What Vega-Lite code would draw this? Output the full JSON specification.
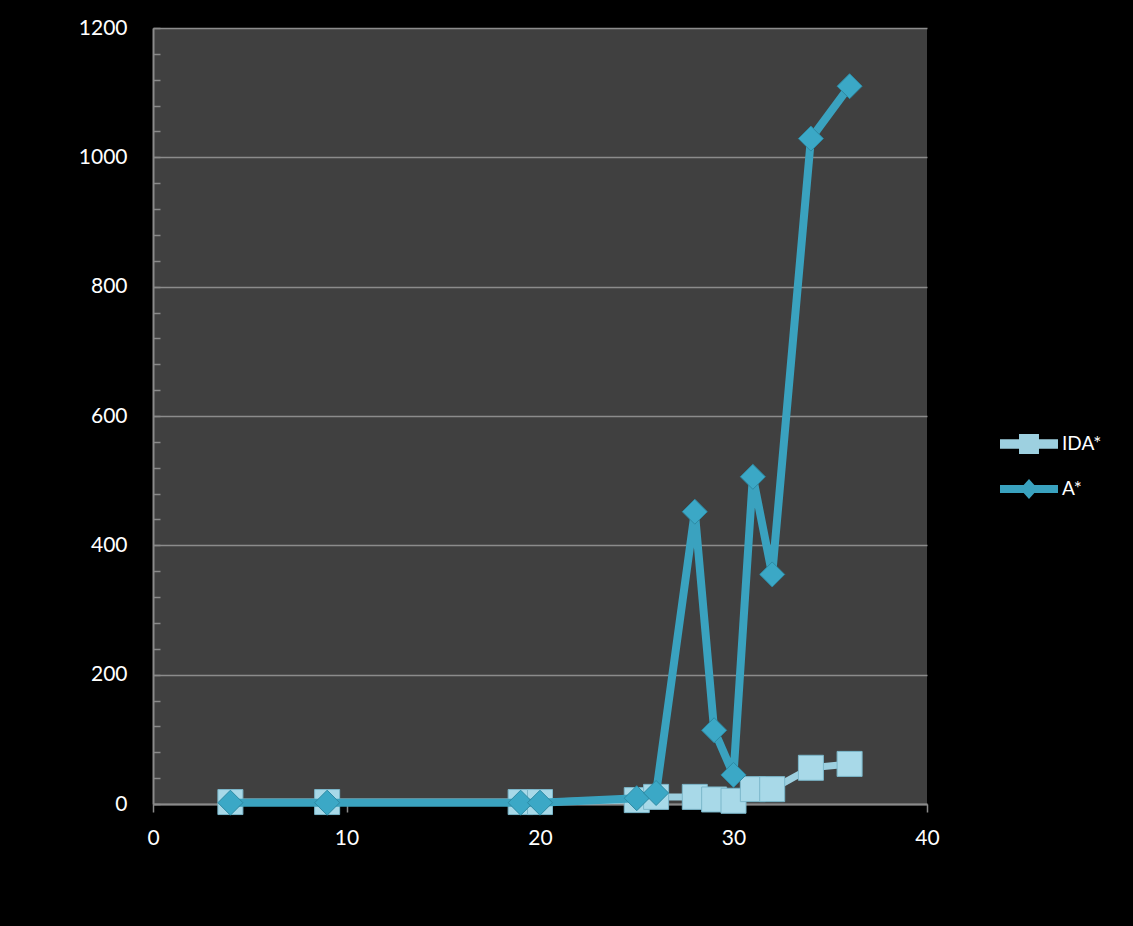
{
  "$schema": "https://vega.github.io/schema/vega-lite/v6.json",
  "width": 774,
  "height": 776,
  "autosize": {"type": "none"},
  "padding": {"left": 153, "top": 28, "right": 206, "bottom": 122},
  "background": "#000000",
  "config": {
    "view": {"fill": "#404040", "stroke": null},
    "font": "Lato",
    "axis": {"labelColor": "#ffffff", "labelFont": "Lato", "labelFontSize": 21, "domainColor": "#8a8a8a", "domainWidth": 2, "tickColor": "#8a8a8a", "tickWidth": 1.5, "title": null, "labelFlush": false, "labelOverlap": false}
  },
  "data": {
    "values": [
      {"series": "IDA*", "x": 4, "y": 3},
      {"series": "IDA*", "x": 9, "y": 3},
      {"series": "IDA*", "x": 19, "y": 3},
      {"series": "IDA*", "x": 20, "y": 3},
      {"series": "IDA*", "x": 25, "y": 6},
      {"series": "IDA*", "x": 26, "y": 11},
      {"series": "IDA*", "x": 28, "y": 11},
      {"series": "IDA*", "x": 29, "y": 7},
      {"series": "IDA*", "x": 30, "y": 5},
      {"series": "IDA*", "x": 31, "y": 23},
      {"series": "IDA*", "x": 32, "y": 23},
      {"series": "IDA*", "x": 34, "y": 56},
      {"series": "IDA*", "x": 36, "y": 62},
      {"series": "A*", "x": 4, "y": 2},
      {"series": "A*", "x": 9, "y": 2},
      {"series": "A*", "x": 19, "y": 2},
      {"series": "A*", "x": 20, "y": 2},
      {"series": "A*", "x": 25, "y": 9},
      {"series": "A*", "x": 26, "y": 17},
      {"series": "A*", "x": 28, "y": 452},
      {"series": "A*", "x": 29, "y": 114},
      {"series": "A*", "x": 30, "y": 45},
      {"series": "A*", "x": 31, "y": 506},
      {"series": "A*", "x": 32, "y": 355},
      {"series": "A*", "x": 34, "y": 1029},
      {"series": "A*", "x": 36, "y": 1110}
    ]
  },
  "layer": [
    {
      "transform": [{"filter": "datum.series === 'IDA*'"}],
      "mark": {"type": "line", "color": "#9dd0e0", "strokeWidth": 7},
      "encoding": {
        "x": {"field": "x", "type": "quantitative", "scale": {"domain": [0, 40], "nice": false},
          "axis": {"values": [0, 10, 20, 30, 40], "tickCount": 10, "grid": false, "tickSize": 8, "labelPadding": 15}},
        "y": {"field": "y", "type": "quantitative", "scale": {"domain": [0, 1200], "nice": false},
          "axis": {
            "values": [0, 40, 80, 120, 160, 200, 240, 280, 320, 360, 400, 440, 480, 520, 560, 600, 640, 680, 720, 760, 800, 840, 880, 920, 960, 1000, 1040, 1080, 1120, 1160, 1200],
            "tickCount": 100,
            "labelExpr": "datum.value % 200 === 0 ? '' + datum.value : ''",
            "grid": true,
            "gridColor": "#8c8c8c",
            "gridWidth": 1.5,
            "gridOpacity": {"condition": {"test": "datum.value % 200 === 0", "value": 1}, "value": 0},
            "tickSize": -7,
            "labelPadding": 33,
            "labelBaseline": "middle"
          }}
      }
    },
    {
      "transform": [{"filter": "datum.series === 'IDA*'"}],
      "mark": {"type": "point", "shape": "square", "filled": true, "size": 625, "fill": "#a8d9e8", "stroke": "#7bb7ca", "strokeWidth": 1, "opacity": 1},
      "encoding": {
        "x": {"field": "x", "type": "quantitative"},
        "y": {"field": "y", "type": "quantitative"}
      }
    },
    {
      "transform": [{"filter": "datum.series === 'A*'"}],
      "mark": {"type": "line", "color": "#3aa2bf", "strokeWidth": 8},
      "encoding": {
        "x": {"field": "x", "type": "quantitative"},
        "y": {"field": "y", "type": "quantitative"}
      }
    },
    {
      "transform": [{"filter": "datum.series === 'A*'"}],
      "mark": {"type": "point", "shape": "diamond", "filled": true, "size": 625, "fill": "#3ba8c6", "stroke": "#2d8aa4", "strokeWidth": 1, "opacity": 1},
      "encoding": {
        "x": {"field": "x", "type": "quantitative"},
        "y": {"field": "y", "type": "quantitative"}
      }
    },
    {
      "transform": [{"filter": "false"}],
      "mark": {"type": "point", "filled": true, "size": 538},
      "encoding": {
        "x": {"field": "x", "type": "quantitative"},
        "y": {"field": "y", "type": "quantitative"},
        "color": {"field": "series", "type": "nominal",
          "scale": {"domain": ["IDA*", "A*"], "range": ["#9dd0e0", "#3aa2bf"]},
          "legend": {"orient": "none", "legendX": 864, "legendY": 404, "title": null, "padding": 0,
            "labelColor": "#ffffff", "labelFont": "Lato", "labelFontSize": 19, "labelOffset": 21,
            "rowPadding": 23, "symbolSize": 538, "symbolStrokeWidth": 0, "symbolOpacity": 1}},
        "shape": {"field": "series", "type": "nominal",
          "scale": {"domain": ["IDA*", "A*"], "range": [
            "M-2.5,-0.4H-0.86V-0.86H0.86V-0.4H2.5V0.4H0.86V0.86H-0.86V0.4H-2.5Z",
            "M-2.5,-0.35H-0.46L0,-0.86L0.46,-0.35H2.5V0.35H0.46L0,0.86L-0.46,0.35H-2.5Z"
          ]},
          "legend": {"orient": "none", "legendX": 864, "legendY": 404, "title": null, "padding": 0,
            "labelColor": "#ffffff", "labelFont": "Lato", "labelFontSize": 19, "labelOffset": 21,
            "rowPadding": 23, "symbolSize": 538, "symbolStrokeWidth": 0, "symbolOpacity": 1}}
      }
    }
  ]
}
